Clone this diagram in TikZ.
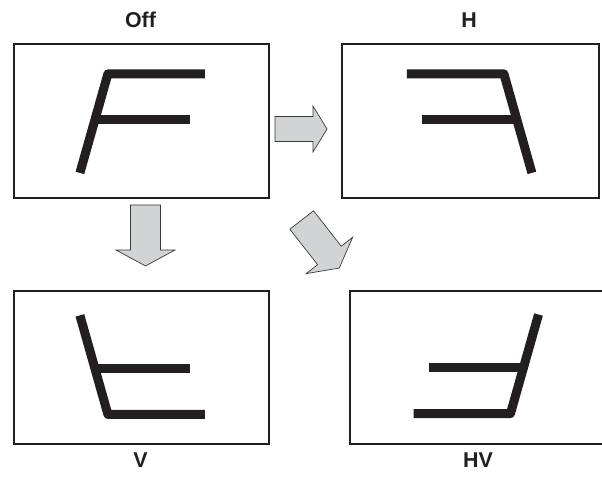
\documentclass[tikz,border=0pt]{standalone}
\usepackage{fontspec}
\setmainfont{Liberation Sans}
\definecolor{ink}{HTML}{231F20}
\definecolor{arrowfill}{HTML}{D1D3D4}
\definecolor{arrowline}{HTML}{3A3A3A}
\tikzset{
  panel/.style={draw=ink, line width=1.8bp, fill=white},
  glyph/.style={draw=ink, line width=9bp, line cap=butt, line join=round},
  blockarrow/.style={draw=arrowline, line width=0.7bp, fill=arrowfill, line join=miter},
  caption/.style={font=\bfseries\fontsize{21.5}{25}\selectfont, text=ink, inner sep=0pt},
  pics/flipF/.style={code={
    \draw[glyph] (63.5,-47) -- (-33.5,-47) -- (-61.5,52);
    \draw[glyph] (-46,-1) -- (48.5,-1);
  }},
  pics/fatarrow/.style args={#1/#2/#3/#4}{code={
    \draw[blockarrow] (0,-#1) -- (#2,-#1) -- (#2,-#3) -- ({#2+#4},0) -- (#2,#3) -- (#2,#1) -- (0,#1) -- cycle;
  }}
}
\begin{document}
\begin{tikzpicture}[x=1bp, y=-1bp]
\useasboundingbox (0,0) rectangle (602,477);
\clip (0,0) rectangle (602,477);
% panels
\node[panel, minimum width=255bp, minimum height=154bp, anchor=north west, inner sep=0pt] (off) at (13,43) {};
\node[panel, minimum width=257bp, minimum height=154bp, anchor=north west, inner sep=0pt] (h) at (341,43) {};
\node[panel, minimum width=255bp, minimum height=153bp, anchor=north west, inner sep=0pt] (v) at (13,290) {};
\node[panel, minimum width=257bp, minimum height=153bp, anchor=north west, inner sep=0pt] (hv) at (349,290) {};
% captions
\node[caption] (offlabel) at (140.5,20) {Off};
\node[caption] (hlabel) at (469,20) {H};
\node[caption] (vlabel) at (140.5,460) {V};
\node[caption] (hvlabel) at (478,460) {HV};
% glyphs
\pic at (off.center) {flipF};
\pic[xscale=-1] at (h.center) {flipF};
\pic[yscale=-1] at (v.center) {flipF};
\pic[xscale=-1, yscale=-1] at (477,366.5) {flipF};
% arrows
\pic[rotate=0] at (275,129) {fatarrow={12.5/38/23/14}};
\pic[rotate=-90] at (145.5,205) {fatarrow={15/45/29.5/16}};
\pic[rotate=-52] at (301.7,220) {fatarrow={15/45/29.5/16}};
\end{tikzpicture}
\end{document}
